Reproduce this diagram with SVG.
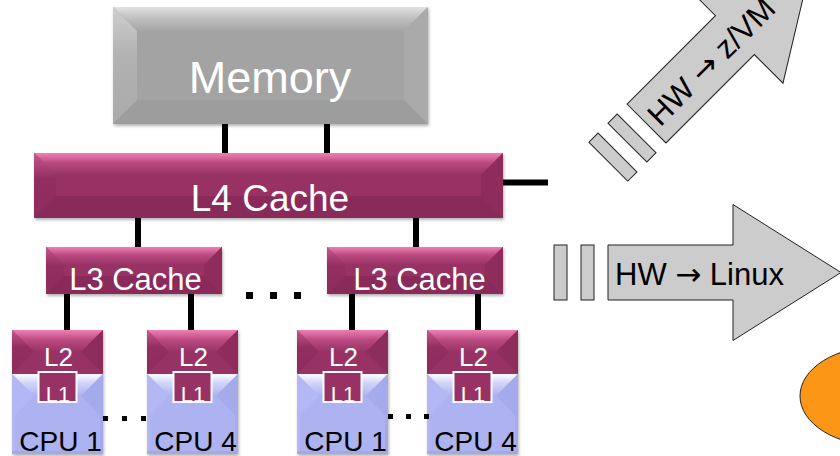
<svg xmlns="http://www.w3.org/2000/svg" xmlns:xlink="http://www.w3.org/1999/xlink" width="840" height="456" viewBox="0 0 840 456">
<style>
.wt{font-family:"Liberation Sans",Arial,sans-serif;fill:#ffffff;text-anchor:middle}
.bt{font-family:"Liberation Sans",Arial,sans-serif;fill:#000000}
.ar{font-family:"DejaVu Sans",sans-serif}
.cpu{font-family:"Liberation Sans",Arial,sans-serif;fill:#000000;text-anchor:middle;font-size:28px}
.conn{stroke:#000;stroke-width:6;fill:none}
.dot{fill:#000}
.arr{fill:#cccccc;stroke:#222;stroke-width:1}
.mb{fill:#983264}
.mt{fill:url(#magTop)}
.ml{fill:url(#magLeft)}
.mr{fill:#8e2c5c}
.mbt{fill:#8a2a5a}
.gb{fill:#a3a3a3}
.gt{fill:url(#greyTop)}
.gl{fill:url(#greyLeft)}
.gr{fill:#aaaaaa}
.gbt{fill:#9d9d9d}
</style>
<defs>
<linearGradient id="magTop" x1="0" y1="0" x2="0" y2="1">
<stop offset="0" stop-color="#f27fb3"/>
<stop offset="0.45" stop-color="#b94a80"/>
<stop offset="1" stop-color="#983264"/>
</linearGradient>
<linearGradient id="magLeft" x1="0" y1="0" x2="0" y2="1">
<stop offset="0" stop-color="#c7588f"/>
<stop offset="0.4" stop-color="#922e60"/>
<stop offset="1" stop-color="#8e2c5c"/>
</linearGradient>
<linearGradient id="greyTop" x1="0" y1="0" x2="0" y2="1">
<stop offset="0" stop-color="#e2e2e2"/>
<stop offset="0.5" stop-color="#bdbdbd"/>
<stop offset="1" stop-color="#a5a5a5"/>
</linearGradient>
<linearGradient id="greyLeft" x1="0" y1="0" x2="0" y2="1">
<stop offset="0" stop-color="#cfcfcf"/>
<stop offset="0.4" stop-color="#b2b2b2"/>
<stop offset="1" stop-color="#aaaaaa"/>
</linearGradient>
<linearGradient id="lavTop" x1="0" y1="0" x2="0" y2="1">
<stop offset="0" stop-color="#ffffff"/>
<stop offset="0.4" stop-color="#d2d5f8"/>
<stop offset="1" stop-color="#adb2f1"/>
</linearGradient>
<filter id="sh" x="-10%" y="-10%" width="120%" height="130%">
<feDropShadow dx="1" dy="2" stdDeviation="1.5" flood-color="#000" flood-opacity="0.3"/>
</filter>
<clipPath id="l1clip"><rect x="27.5" y="43" width="36" height="28"/></clipPath>
<g id="cpuUnit">
<rect x="0" y="0" width="91" height="124" fill="#adb2f1" filter="url(#sh)"/>
<rect x="0" y="0" width="91" height="44" class="mb"/>
<polygon points="0,0 91,0 69,22 22,22" class="mt"/>
<polygon points="0,0 22,22 0,44" class="ml"/>
<polygon points="91,0 69,22 91,44" class="mr"/>
<polygon points="0,44 91,44 69,66 22,66" fill="url(#lavTop)"/>
<polygon points="0,44 22,66 3,85 3,124 0,124" fill="#b3b7f3"/>
<polygon points="91,44 69,66 88,85 88,124 91,124" fill="#a5aaeb"/>
<rect x="0" y="121" width="91" height="3" fill="#a3a8e8"/>
<rect x="26.5" y="42" width="38" height="30" fill="#983264"/>
<text x="46" y="72" class="wt" font-size="22" clip-path="url(#l1clip)">L1</text>
<rect x="26.5" y="42" width="38" height="30" fill="none" stroke="#ffffff" stroke-width="2"/>
</g>
</defs>

<rect width="840" height="456" fill="#ffffff"/>

<g id="connectors">
<line x1="225" y1="124" x2="225" y2="153" class="conn"/>
<line x1="327" y1="124" x2="327" y2="153" class="conn"/>
<line x1="138" y1="218" x2="138" y2="247" class="conn"/>
<line x1="416" y1="218" x2="416" y2="247" class="conn"/>
<line x1="503" y1="182.5" x2="548" y2="182.5" class="conn"/>
<line x1="67" y1="294" x2="67" y2="330" class="conn"/>
<line x1="191" y1="294" x2="191" y2="330" class="conn"/>
<line x1="352" y1="294" x2="352" y2="330" class="conn"/>
<line x1="478" y1="294" x2="478" y2="330" class="conn"/>
</g>

<g id="memory">
<rect x="113" y="7" width="315" height="117" class="gb" filter="url(#sh)"/>
<polygon points="113,7 428,7 404,31 137,31" class="gt"/>
<polygon points="113,7 137,31 137,100 113,124" class="gl"/>
<polygon points="428,7 404,31 404,100 428,124" class="gr"/>
<polygon points="113,124 137,100 404,100 428,124" class="gbt"/>
<text x="270" y="93" class="wt" font-size="45">Memory</text>
</g>

<g id="l4cache">
<rect x="34" y="153" width="469" height="65" class="mb" filter="url(#sh)"/>
<polygon points="34,153 503,153 481,175 56,175" class="mt"/>
<polygon points="34,153 56,175 56,196 34,218" class="ml"/>
<polygon points="503,153 481,175 481,196 503,218" class="mr"/>
<polygon points="34,218 56,196 481,196 503,218" class="mbt"/>
<text x="270" y="211" class="wt" font-size="37">L4 Cache</text>
</g>

<g id="l3cache-left">
<rect x="46" y="247" width="176" height="47" class="mb" filter="url(#sh)"/>
<polygon points="46,247 222,247 204,265 64,265" class="mt"/>
<polygon points="46,247 64,265 64,276 46,294" class="ml"/>
<polygon points="222,247 204,265 204,276 222,294" class="mr"/>
<polygon points="46,294 64,276 204,276 222,294" class="mbt"/>
<text x="135.5" y="290" class="wt" font-size="31">L3 Cache</text>
</g>

<g id="l3cache-right">
<rect x="327" y="247" width="176" height="47" class="mb" filter="url(#sh)"/>
<polygon points="327,247 503,247 485,265 345,265" class="mt"/>
<polygon points="327,247 345,265 345,276 327,294" class="ml"/>
<polygon points="503,247 485,265 485,276 503,294" class="mr"/>
<polygon points="327,294 345,276 485,276 503,294" class="mbt"/>
<text x="419.5" y="290" class="wt" font-size="31">L3 Cache</text>
</g>

<g id="dots-l3">
<rect x="246" y="292" width="7" height="7" class="dot"/>
<rect x="270" y="292" width="7" height="7" class="dot"/>
<rect x="294" y="292" width="7" height="7" class="dot"/>
</g>

<g id="cpu1a">
<use xlink:href="#cpuUnit" href="#cpuUnit" x="12" y="330"/>
<text x="58.5" y="366" class="wt" font-size="26">L2</text>
<text x="60.5" y="451" class="cpu">CPU 1</text>
</g>
<g id="cpu4a">
<use xlink:href="#cpuUnit" href="#cpuUnit" x="147" y="330"/>
<text x="193.5" y="366" class="wt" font-size="26">L2</text>
<text x="195.5" y="451" class="cpu">CPU 4</text>
</g>
<g id="cpu1b">
<use xlink:href="#cpuUnit" href="#cpuUnit" x="297" y="330"/>
<text x="343.5" y="366" class="wt" font-size="26">L2</text>
<text x="345.5" y="451" class="cpu">CPU 1</text>
</g>
<g id="cpu4b">
<use xlink:href="#cpuUnit" href="#cpuUnit" x="427" y="330"/>
<text x="473.5" y="366" class="wt" font-size="26">L2</text>
<text x="475.5" y="451" class="cpu">CPU 4</text>
</g>

<g id="dots-cpu">
<rect x="103" y="416" width="5" height="5" class="dot"/>
<rect x="122" y="416" width="5" height="5" class="dot"/>
<rect x="141" y="416" width="5" height="5" class="dot"/>
<rect x="388" y="414" width="5" height="5" class="dot"/>
<rect x="406" y="414" width="5" height="5" class="dot"/>
<rect x="424" y="414" width="5" height="5" class="dot"/>
</g>

<g id="arrow-zvm" transform="translate(646.5,123.5) rotate(-45)">
<rect x="-54" y="-27.5" width="13" height="55" class="arr"/>
<rect x="-27" y="-27.5" width="13" height="55" class="arr"/>
<path d="M0,-27.5 H125 V-68 L235,0 L125,68 V27.5 H0 Z" class="arr"/>
<text x="7" y="12.5" class="bt" font-size="31">HW <tspan class="ar">→</tspan> z/VM</text>
</g>

<g id="arrow-linux" transform="translate(608,272.5)">
<rect x="-54" y="-27.5" width="13" height="55" class="arr"/>
<rect x="-27" y="-27.5" width="13" height="55" class="arr"/>
<path d="M0,-27.5 H125 V-68 L233,0 L125,68 V27.5 H0 Z" class="arr"/>
<text x="7" y="12.5" class="bt" font-size="31">HW <tspan class="ar">→</tspan> Linux</text>
</g>

<g id="ellipse">
<ellipse cx="880" cy="396" rx="80" ry="50" fill="#fb9617" stroke="#222" stroke-width="1"/>
</g>
</svg>
